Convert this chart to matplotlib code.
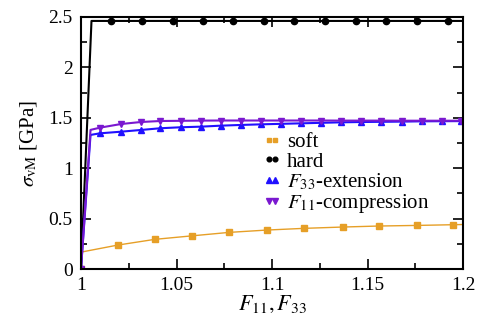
import matplotlib
matplotlib.use('Agg')
import matplotlib.pyplot as plt

plt.rcParams['font.family'] = ['Liberation Serif', 'DejaVu Serif']
plt.rcParams['mathtext.fontset'] = 'stix'

# soft
soft_x = [1.0, 1.0005, 1.0192, 1.0387, 1.0583, 1.0776, 1.0972, 1.1168, 1.1370, 1.1559, 1.1759, 1.1948, 1.2]
soft_y = [0.0, 0.17, 0.238, 0.295, 0.33, 0.364, 0.387, 0.404, 0.417, 0.427, 0.433, 0.44, 0.442]

# hard
hard_x = [1.0, 1.0055, 1.0155, 1.0318, 1.0483, 1.0637, 1.0797, 1.0958, 1.1117, 1.1277,
          1.1438, 1.1597, 1.1758, 1.1918, 1.2]
hard_y = [0.0, 2.46, 2.46, 2.46, 2.46, 2.46, 2.46, 2.46, 2.46, 2.46, 2.46, 2.46, 2.46, 2.46, 2.46]

# F33 extension / F11 compression share the same strain steps
fx = [1.0, 1.005, 1.00995, 1.0209, 1.0313, 1.0414, 1.0522, 1.0627, 1.0733, 1.0838, 1.0942,
      1.1047, 1.1152, 1.1257, 1.1361, 1.1466, 1.1571, 1.1679, 1.1784, 1.1888, 1.1990]
ext_y = [0.0, 1.33, 1.346, 1.362, 1.379, 1.396, 1.406, 1.412, 1.422, 1.429, 1.435,
         1.44, 1.445, 1.45, 1.455, 1.458, 1.46, 1.462, 1.465, 1.466, 1.467]
comp_y = [0.0, 1.38, 1.402, 1.438, 1.458, 1.468, 1.47, 1.472, 1.473, 1.473, 1.473,
          1.473, 1.473, 1.473, 1.472, 1.472, 1.472, 1.471, 1.471, 1.471, 1.471]

c_soft = '#e69f27'
c_hard = 'black'
c_ext = '#2010ff'
c_comp = '#7a18d0'

fig = plt.figure(figsize=(4.82, 3.25), dpi=100)
ax = fig.add_axes([0.168, 0.172, 0.793, 0.776])

def skip_knee(n):
    return [0] + list(range(2, n))

ax.plot(soft_x, soft_y, color=c_soft, lw=1.0, marker='s', ms=4.3, markevery=skip_knee(len(soft_x) - 1),
        label='soft')
ax.plot(hard_x, hard_y, color=c_hard, lw=1.5, marker='o', ms=4.5, markevery=skip_knee(len(hard_x) - 1),
        label='hard')
ax.plot(fx, ext_y, color=c_ext, lw=1.5, marker='^', ms=5, markevery=skip_knee(len(fx)),
        label='$F_{33}$-extension')
ax.plot(fx, comp_y, color=c_comp, lw=1.5, marker='v', ms=5, markevery=skip_knee(len(fx)),
        label='$F_{11}$-compression')

ax.set_xlim(1, 1.2)
ax.set_ylim(0, 2.5)
ax.set_xticks([1, 1.05, 1.1, 1.15, 1.2])
ax.set_xticklabels(['1', '1.05', '1.1', '1.15', '1.2'])
ax.set_yticks([0, 0.5, 1, 1.5, 2, 2.5])
ax.set_yticklabels(['0', '0.5', '1', '1.5', '2', '2.5'])
ax.set_xticks([1.025, 1.075, 1.125, 1.175], minor=True)
ax.set_yticks([0.25, 0.75, 1.25, 1.75, 2.25], minor=True)
ax.tick_params(which='both', direction='in', top=True, right=True, labelsize=14, width=1.2)
ax.tick_params(which='major', length=7, pad=6)
ax.tick_params(which='minor', length=4)
for s in ax.spines.values():
    s.set_linewidth(1.5)

ax.set_xlabel('$F_{11}, F_{33}$', fontsize=16, labelpad=0)
ax.set_ylabel(r'$\sigma_{\rm vM}$ [GPa]', fontsize=15, labelpad=7)

ax.legend(loc='upper left', bbox_to_anchor=(0.437, 0.60), frameon=False, fontsize=15,
          numpoints=2, markerscale=0.75, handlelength=0.9, handletextpad=0.26,
          labelspacing=0.0, borderpad=0.2)
for line in ax.get_legend().get_lines():
    line.set_linestyle('none')

fig.savefig('out.png', dpi=100)
